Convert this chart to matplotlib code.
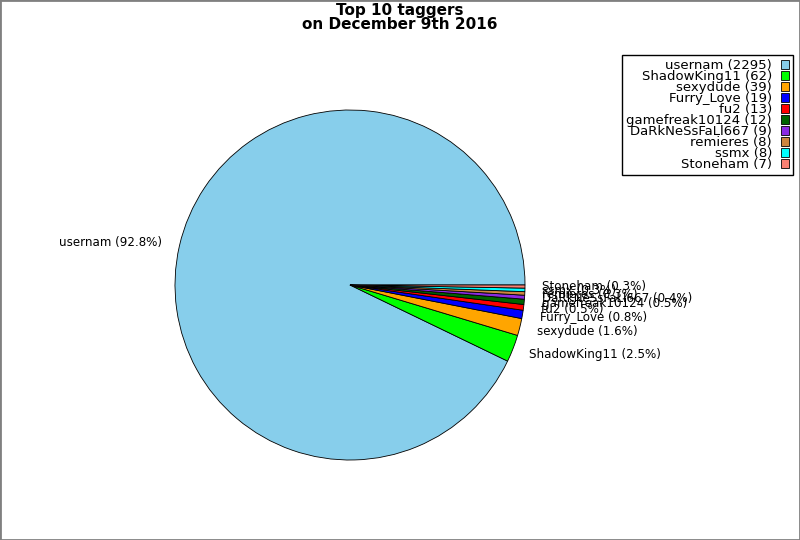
import matplotlib
matplotlib.use("Agg")
import matplotlib.pyplot as plt
from matplotlib.patches import Rectangle

names = ["usernam", "ShadowKing11", "sexydude", "Furry_Love", "fu2",
         "gamefreak10124", "DaRkNeSsFaLl667", "remieres", "ssmx", "Stoneham"]
counts = [2295, 62, 39, 19, 13, 12, 9, 8, 8, 7]
colors = ["skyblue", "lime", "orange", "blue", "red", "darkgreen",
          "blueviolet", "peru", "cyan", "salmon"]

total = sum(counts)
pie_labels = [f"{n} ({c / total * 100:.1f}%)" for n, c in zip(names, counts)]
legend_labels = [f"{n} ({c})" for n, c in zip(names, counts)]

fig = plt.figure(figsize=(8, 5.4), dpi=100)
ax = fig.add_axes([175 / 800, (540 - 285 - 175) / 540, 350 / 800, 350 / 540])
wedges, texts = ax.pie(counts, labels=pie_labels, colors=colors, startangle=0,
                       counterclock=True,
                       wedgeprops=dict(edgecolor="black", linewidth=0.6),
                       textprops=dict(fontsize=8.6))
ax.set_xlim(-1, 1)
ax.set_ylim(-1, 1)
ax.set_aspect("auto")

fig.text(0.5, 1 - 3 / 540, "Top 10 taggers\non December 9th 2016",
         ha="center", va="top", fontsize=11, fontweight="bold", linespacing=0.95)

leg = fig.legend(wedges, legend_labels, loc="upper right",
                 bbox_to_anchor=(793 / 800, 1 - 55 / 540),
                 bbox_transform=fig.transFigure, borderaxespad=0,
                 markerfirst=False, fontsize=9.5, fancybox=False,
                 handlelength=0.6, handleheight=0.65, labelspacing=-0.15,
                 handletextpad=0.7, borderpad=0.3, framealpha=1)
leg.get_frame().set_edgecolor("black")
leg.get_frame().set_linewidth(1.0)

fig.patches.append(Rectangle((0, 0), 1, 1, transform=fig.transFigure,
                             fill=False, edgecolor="gray", linewidth=2))

fig.savefig("out.png", dpi=100)
